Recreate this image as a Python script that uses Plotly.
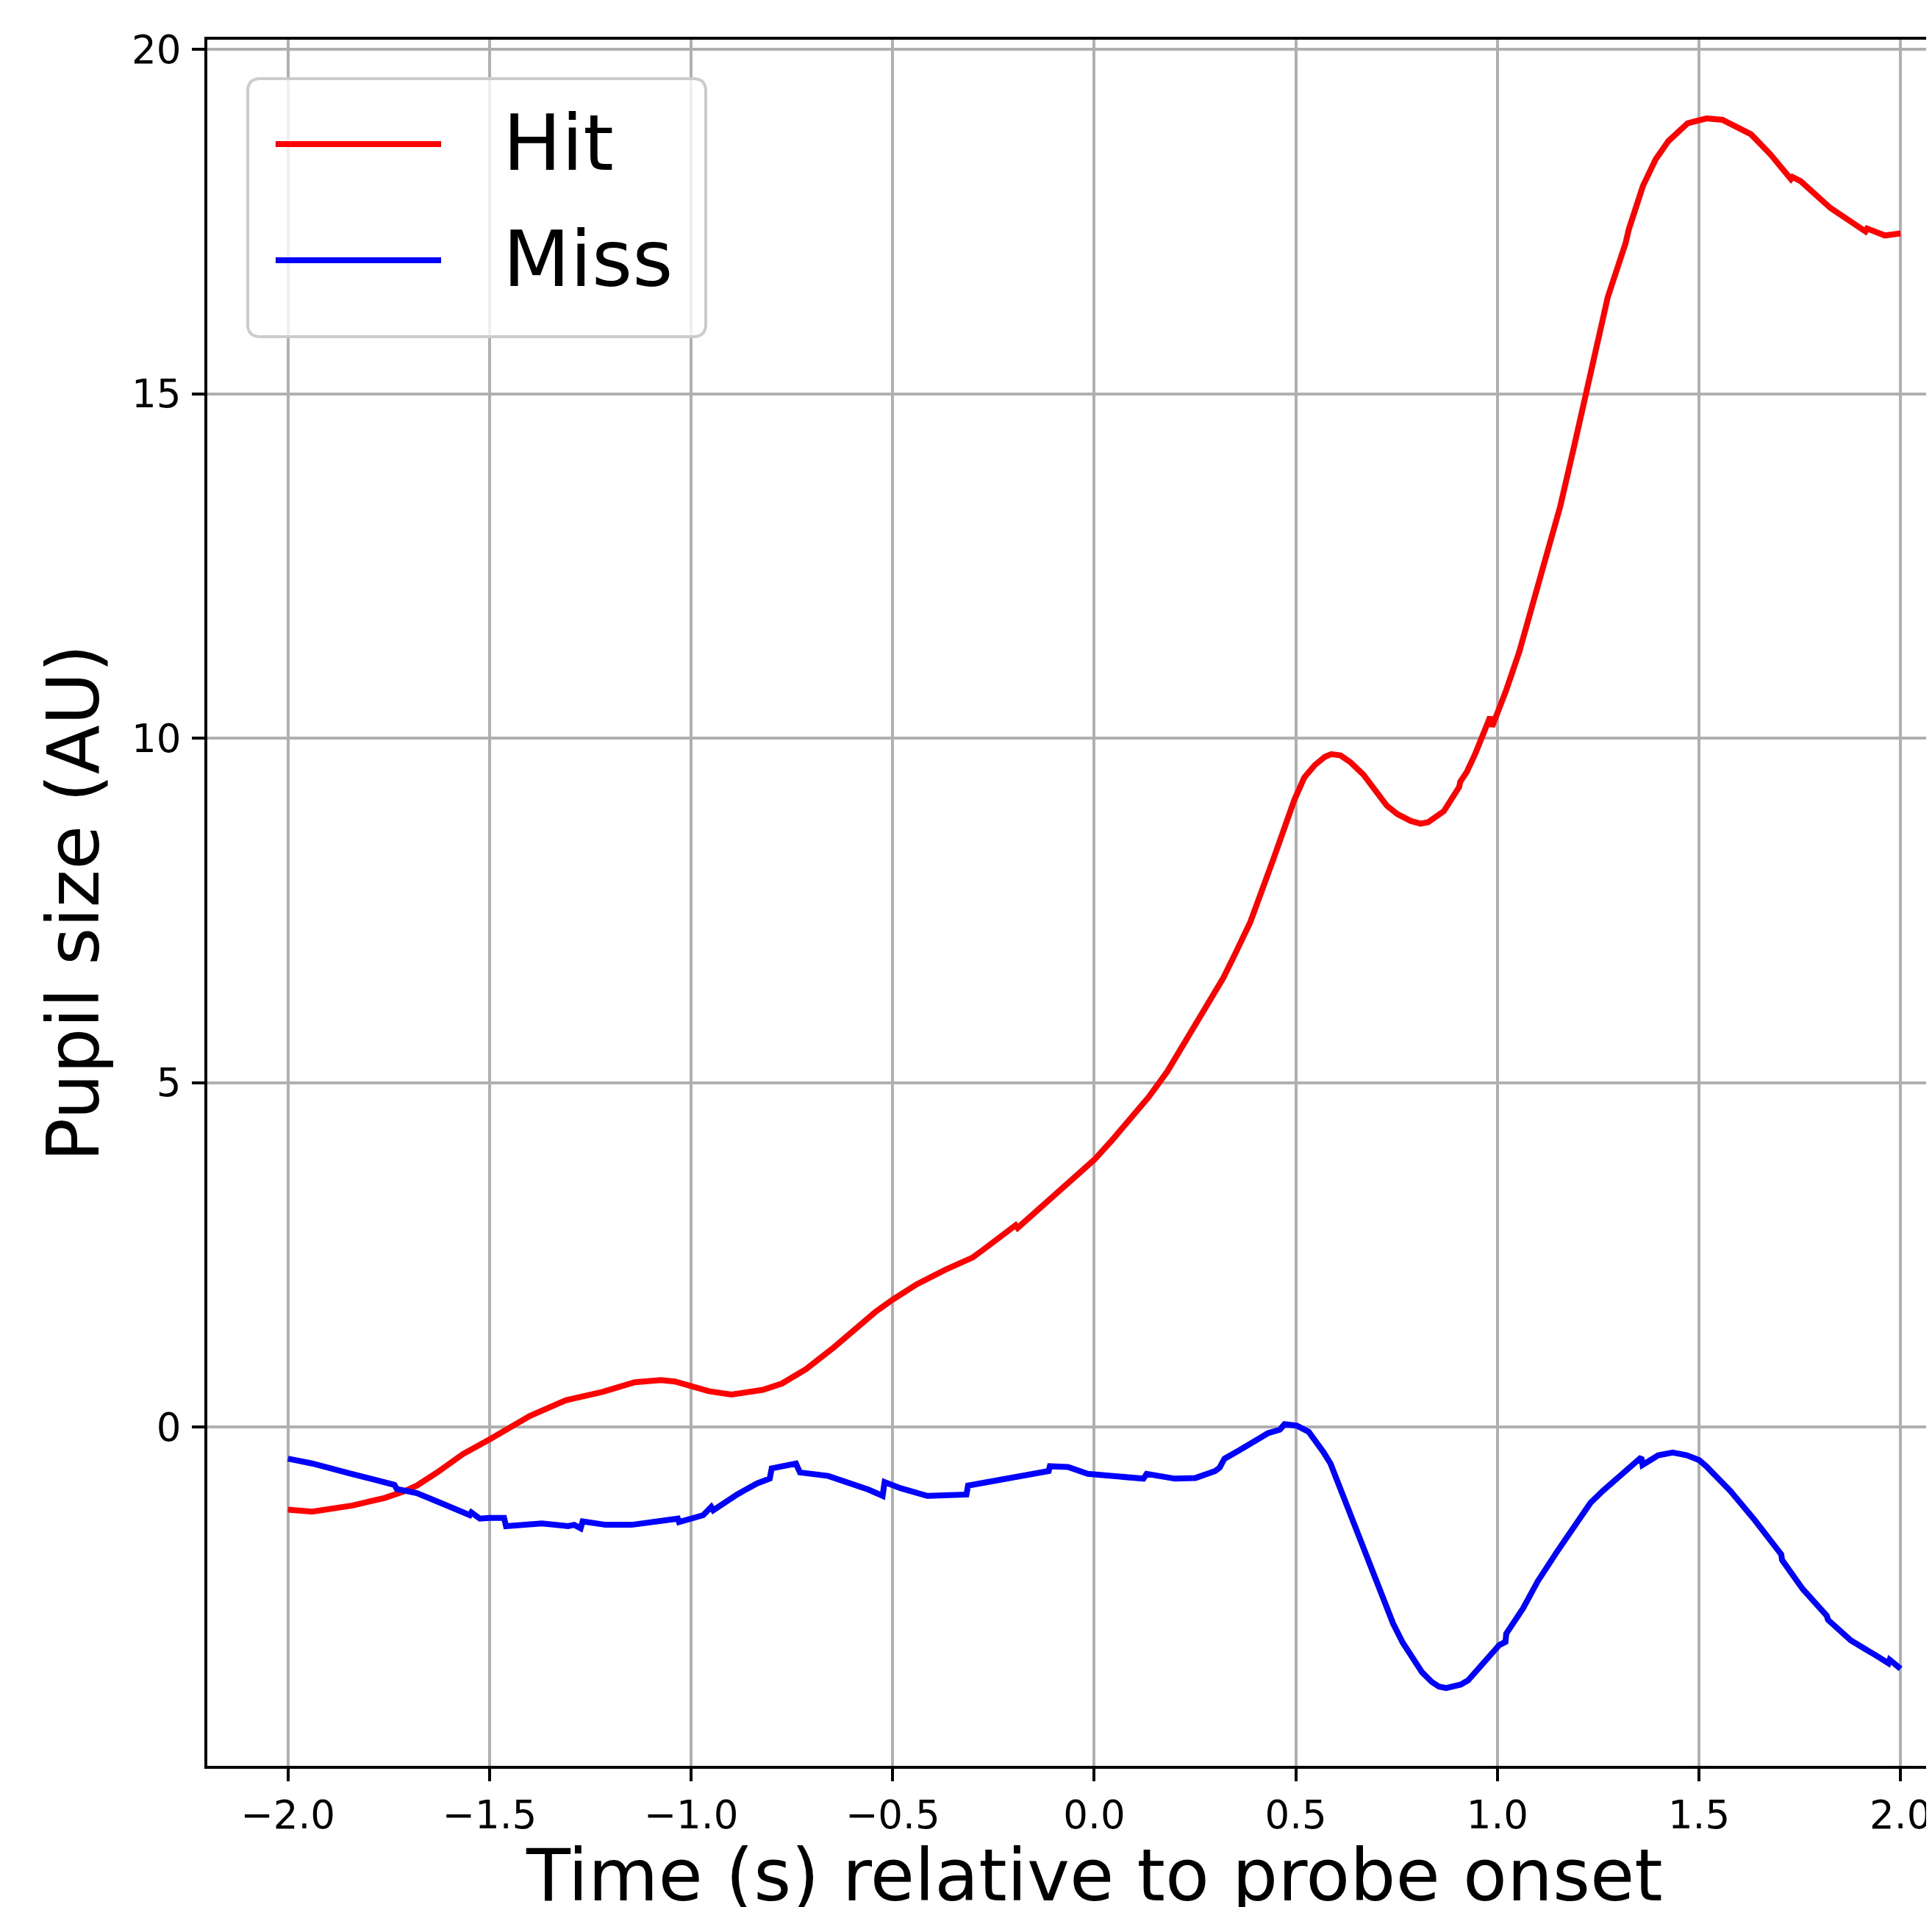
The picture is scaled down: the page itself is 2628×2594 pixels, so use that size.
import plotly.graph_objects as go

# ---------------- data ----------------
hit_x = [-2.00, -1.94, -1.84, -1.76, -1.71, -1.68, -1.63, -1.565, -1.50, -1.40,
         -1.31, -1.22, -1.14, -1.075, -1.04, -0.956, -0.90, -0.822, -0.775, -0.715,
         -0.645, -0.59, -0.543, -0.50, -0.441, -0.367, -0.302, -0.274, -0.195, -0.19,
         -0.1025, -0.023, 0.0, 0.042, 0.088, 0.135, 0.181, 0.228, 0.274, 0.32,
         0.348, 0.387, 0.444, 0.496, 0.521, 0.547, 0.572, 0.588, 0.611, 0.636,
         0.668, 0.70, 0.726, 0.752, 0.785, 0.809, 0.828, 0.867, 0.905, 0.908,
         0.924, 0.944, 0.963, 0.982, 0.987, 1.022, 1.054, 1.101, 1.156, 1.188,
         1.219, 1.247, 1.274, 1.318, 1.326, 1.361, 1.393, 1.424, 1.472, 1.519,
         1.558, 1.629, 1.677, 1.728, 1.732, 1.752, 1.826, 1.913, 1.917, 1.961,
         2.0]
hit_y = [-1.20, -1.23, -1.14, -1.03, -0.93, -0.85, -0.66, -0.39, -0.18, 0.16,
         0.39, 0.51, 0.65, 0.68, 0.66, 0.52, 0.47, 0.54, 0.63, 0.84,
         1.16, 1.45, 1.67, 1.85, 2.07, 2.29, 2.46, 2.58, 2.93, 2.89,
         3.35, 3.75, 3.88, 4.15, 4.46, 4.79, 5.16, 5.61, 6.05, 6.52,
         6.85, 7.33, 8.24, 9.10, 9.43, 9.61, 9.73, 9.77, 9.75, 9.65,
         9.47, 9.22, 9.02, 8.90, 8.80, 8.76, 8.78, 8.94, 9.29, 9.37,
         9.51, 9.76, 10.02, 10.31, 10.17, 10.70, 11.25, 12.21, 13.37, 14.18,
         14.99, 15.70, 16.41, 17.19, 17.39, 18.02, 18.41, 18.67, 18.93, 19.00,
         18.98, 18.77, 18.48, 18.12, 18.15, 18.09, 17.70, 17.36, 17.40, 17.30,
         17.33]

miss_x = [-2.00, -1.94, -1.842, -1.736, -1.73, -1.68, -1.614, -1.549, -1.545, -1.524,
          -1.50, -1.464, -1.459, -1.37, -1.305, -1.29, -1.274, -1.269, -1.212, -1.147,
          -1.033, -1.03, -0.97, -0.95, -0.945, -0.886, -0.837, -0.805, -0.80, -0.74,
          -0.73, -0.66, -0.56, -0.525, -0.52, -0.48, -0.414, -0.317, -0.313, -0.113,
          -0.11, -0.065, -0.016, 0.122, 0.13, 0.20, 0.251, 0.287, 0.30, 0.311,
          0.323, 0.359, 0.431, 0.46, 0.472, 0.502, 0.532, 0.568, 0.586, 0.61,
          0.634, 0.658, 0.682, 0.706, 0.729, 0.741, 0.765, 0.789, 0.813, 0.837,
          0.855, 0.873, 0.909, 0.927, 0.968, 1.004, 1.02, 1.022, 1.064, 1.10,
          1.148, 1.184, 1.231, 1.261, 1.291, 1.327, 1.357, 1.36, 1.399, 1.435,
          1.47, 1.50, 1.518, 1.578, 1.638, 1.704, 1.706, 1.757, 1.817, 1.82,
          1.877, 1.937, 1.97, 1.973, 2.0]
miss_y = [-0.46, -0.53, -0.68, -0.84, -0.90, -0.96, -1.12, -1.28, -1.24, -1.33,
          -1.32, -1.32, -1.44, -1.40, -1.44, -1.42, -1.47, -1.37, -1.42, -1.42,
          -1.33, -1.38, -1.28, -1.16, -1.21, -0.98, -0.82, -0.75, -0.60, -0.53,
          -0.66, -0.71, -0.91, -1.00, -0.80, -0.89, -1.00, -0.98, -0.85, -0.64,
          -0.57, -0.58, -0.68, -0.75, -0.68, -0.75, -0.74, -0.68, -0.64, -0.59,
          -0.46, -0.34, -0.09, -0.04, 0.04, 0.02, -0.07, -0.36, -0.53, -0.89,
          -1.25, -1.60, -1.99, -2.35, -2.71, -2.85, -3.13, -3.35, -3.56, -3.70,
          -3.77, -3.79, -3.74, -3.68, -3.42, -3.17, -3.12, -3.00, -2.63, -2.24,
          -1.81, -1.49, -1.10, -0.93, -0.78, -0.60, -0.44, -0.55, -0.41, -0.37,
          -0.41, -0.48, -0.57, -0.93, -1.35, -1.85, -1.93, -2.35, -2.74, -2.80,
          -3.10, -3.31, -3.43, -3.38, -3.51]

x_tickvals = [-2.0, -1.5, -1.0, -0.5, 0.0, 0.5, 1.0, 1.5, 2.0]
x_ticktext = ["\u22122.0", "\u22121.5", "\u22121.0", "\u22120.5", "0.0", "0.5", "1.0", "1.5", "2.0"]
y_tickvals = [0, 5, 10, 15, 20]
y_ticktext = ["0", "5", "10", "15", "20"]

series_names = ["Hit", "Miss"]
series_colors = ["#ff0000", "#0000ff"]

# ---------------- layout geometry (page pixels) ----------------
OFF = 8                      # default body margin of the html page
PAGE_W, PAGE_H = 2628, 2594
W, H = PAGE_W - OFF, PAGE_H - OFF
PL, PT, PB = 282, 54, 2402   # plot-area edges in page pixels
L, T = PL - OFF, PT - OFF
R = 0
B = PAGE_H - PB
PW = W - L - R
PH = H - T - B


def px2x(px):
    return (px - PL) / PW


def py2y(py):
    return (PB - py) / PH


FONT = "DejaVu Sans"

fig = go.Figure()
fig.add_trace(go.Scatter(x=hit_x, y=hit_y, mode="lines", name=series_names[0],
                         line=dict(color=series_colors[0], width=8)))
fig.add_trace(go.Scatter(x=miss_x, y=miss_y, mode="lines", name=series_names[1],
                         line=dict(color=series_colors[1], width=8)))

axis_common = dict(showline=True, linecolor="black", linewidth=4,
                   ticks="outside", ticklen=17, tickwidth=4, tickcolor="black",
                   showgrid=True, gridcolor="#b0b0b0", gridwidth=4,
                   zeroline=False, tickfont=dict(family=FONT, size=53, color="black"))

fig.update_xaxes(range=[-2.2, 2.078], tickvals=x_tickvals, ticktext=x_ticktext,
                 mirror=True, **axis_common)
fig.update_yaxes(range=[-4.92, 20.143], tickvals=y_tickvals, ticktext=y_ticktext,
                 mirror=False, ticklabelstandoff=4, **axis_common)

annotations = [
    dict(text="Time (s) relative to probe onset", xref="x", yref="paper",
         x=0, y=py2y(2551), xanchor="center", yanchor="middle", showarrow=False,
         font=dict(family=FONT, size=98, color="black")),
    dict(text="Pupil size (AU)", xref="paper", yref="paper", x=0, y=0.5,
         xshift=-182, xanchor="center", yanchor="middle", textangle=-90,
         showarrow=False, font=dict(family=FONT, size=98, color="black")),
]

# custom legend (matplotlib-style rounded frame)
lx0, lx1, ly0, ly1, rad = 337, 960, 107, 458, 17
path = (f"M {px2x(lx0 + rad)},{py2y(ly0)} L {px2x(lx1 - rad)},{py2y(ly0)} "
        f"Q {px2x(lx1)},{py2y(ly0)} {px2x(lx1)},{py2y(ly0 + rad)} "
        f"L {px2x(lx1)},{py2y(ly1 - rad)} "
        f"Q {px2x(lx1)},{py2y(ly1)} {px2x(lx1 - rad)},{py2y(ly1)} "
        f"L {px2x(lx0 + rad)},{py2y(ly1)} "
        f"Q {px2x(lx0)},{py2y(ly1)} {px2x(lx0)},{py2y(ly1 - rad)} "
        f"L {px2x(lx0)},{py2y(ly0 + rad)} "
        f"Q {px2x(lx0)},{py2y(ly0)} {px2x(lx0 + rad)},{py2y(ly0)} Z")
shapes = [dict(type="path", path=path, xref="paper", yref="paper",
               fillcolor="rgba(255,255,255,0.8)", line=dict(color="#cccccc", width=4),
               layer="above")]

legend_rows = [196, 354]
for name, color, ry in zip(series_names, series_colors, legend_rows):
    shapes.append(dict(type="line", xref="paper", yref="paper",
                       x0=px2x(375), x1=px2x(600), y0=py2y(ry), y1=py2y(ry),
                       line=dict(color=color, width=8), layer="above"))
    annotations.append(dict(text=name, xref="paper", yref="paper",
                            x=px2x(682), y=py2y(ry - 2), xanchor="left", yanchor="middle",
                            showarrow=False, font=dict(family=FONT, size=106, color="black")))

fig.update_layout(width=W, height=H, margin=dict(l=L, r=R, t=T, b=B, pad=0),
                  plot_bgcolor="white", paper_bgcolor="white", showlegend=False,
                  font=dict(family=FONT, color="black"),
                  shapes=shapes, annotations=annotations)

fig.write_html("out.html")
